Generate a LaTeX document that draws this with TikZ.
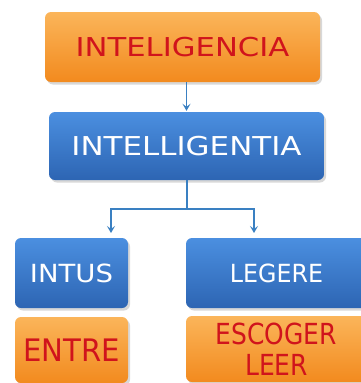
\documentclass[tikz,border=0pt]{standalone}
\usepackage{fontspec}
\setmainfont{DejaVu Sans}
\usetikzlibrary{shadows,arrows.meta}
\definecolor{orTop}{HTML}{FBB55A}
\definecolor{orBot}{HTML}{F28A1E}
\definecolor{blTop}{HTML}{4B8FE0}
\definecolor{blBot}{HTML}{2D65B3}
\definecolor{txtRed}{HTML}{D0141C}
\definecolor{lineBlue}{HTML}{3A80C2}
\begin{document}
\begin{tikzpicture}[x=1pt,y=-1pt,
  box/.style={rectangle, rounded corners=6pt, inner sep=0pt,
    drop shadow={opacity=0.3,shadow xshift=2pt,shadow yshift=-2.5pt}},
  obox/.style={box, top color=orTop, bottom color=orBot, text=txtRed},
  bbox/.style={box, top color=blTop, bottom color=blBot, text=white},
  conn/.style={draw=lineBlue, line width=1.4pt},
  arr/.style={conn, -{Stealth[length=7pt,width=8pt,inset=3pt]}}]
\useasboundingbox (0,0) rectangle (361,383);
\fill[white] (0,0) rectangle (361,383);
\clip (0,0) rectangle (361,383);

\node[obox, minimum width=275pt, minimum height=70pt] (A) at (182.5,47)
  {\fontsize{26}{30}\selectfont\scalebox{1.18}[1]{INTELIGENCIA}};
\node[bbox, minimum width=275pt, minimum height=68pt] (B) at (186.5,146)
  {\fontsize{26}{30}\selectfont\scalebox{1.19}[1]{INTELLIGENTIA}};
\node[bbox, minimum width=113pt, minimum height=70pt] (C) at (71.5,273)
  {\fontsize{25}{30}\selectfont\scalebox{1.1}[1]{INTUS}};
\node[bbox, minimum width=181pt, minimum height=70pt] (D) at (276.5,273)
  {\fontsize{25}{30}\selectfont\scalebox{0.95}[1]{LEGERE}};
\node[obox, minimum width=113pt, minimum height=66pt] (E) at (71.5,350)
  {\fontsize{31}{33}\selectfont\scalebox{0.94}[1]{ENTRE}};
\node[obox, minimum width=181pt, minimum height=66pt, align=center,
  font={\fontsize{29}{31}\selectfont}] (F) at (276.5,349)
  {\scalebox{0.86}[1]{ESCOGER}\\\scalebox{0.86}[1]{LEER}};

\coordinate (split) at (187,209);
\coordinate (lt) at (111,233);
\coordinate (rt) at (254,233);

\draw[arr, shorten >=1pt] (A.south -| B.north) -- (B.north);
\draw[conn] (B.south -| split) -- (split);
\draw[arr] (split) -| (lt);
\draw[arr] (split) -| (rt);
\end{tikzpicture}
\end{document}
